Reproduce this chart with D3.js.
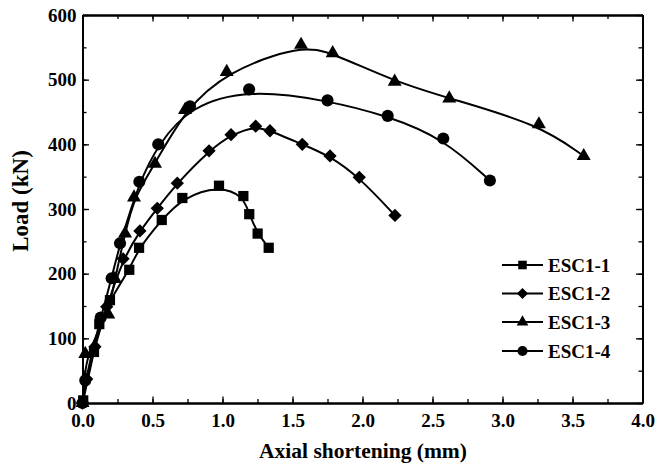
<!DOCTYPE html>
<html><head><meta charset="utf-8">
<script src="https://cdn.jsdelivr.net/npm/d3@7"></script>
<style>body{margin:0;background:#fff}svg{display:block}text{font-family:"Liberation Serif","Times New Roman",serif;font-weight:bold}</style>
</head><body><svg id="c" width="657" height="470"></svg>
<script>
const seriesNames = ["ESC1-1","ESC1-2","ESC1-3","ESC1-4"];
const markers = ["square","diamond","triangle","circle"];
const esc1_1 = [[0.005,4],[0.082,79],[0.12,122],[0.196,159],[0.334,206],[0.404,240],[0.566,283],[0.713,317],[0.975,336],[1.149,320],[1.191,292],[1.251,262],[1.33,240]];
const esc1_2 = [[0,0],[0.03,37],[0.089,87],[0.173,149],[0.29,223],[0.41,266],[0.534,301],[0.677,340],[0.904,390],[1.061,415],[1.237,428],[1.339,421],[1.57,400],[1.768,382],[1.977,349],[2.232,290]];
const esc1_3 = [[0,0],[0.02,76],[0.184,137],[0.232,192],[0.304,262],[0.368,318],[0.518,370],[0.732,453],[1.03,512],[1.561,554],[1.787,541],[2.23,497],[2.62,471],[3.26,431],[3.58,382]];
const esc1_4 = [[0,0],[0.02,35],[0.13,132],[0.208,193],[0.268,247],[0.406,342],[0.541,400],[0.768,459],[1.19,485],[1.75,468],[2.18,444],[2.577,409],[2.91,344]];
const seriesData = [esc1_1, esc1_2, esc1_3, esc1_4];
const xTicks = [0,0.5,1.0,1.5,2.0,2.5,3.0,3.5,4.0];
const yTicks = [0,100,200,300,400,500,600];

const svg = d3.select("#c");
const L=82.5, R=642.5, T=15, B=403;
const x = d3.scaleLinear().domain([0,4]).range([L,R]);
const y = d3.scaleLinear().domain([0,600]).range([B,T]);

const symMap = {square:d3.symbolSquare, diamond:d3.symbolSquare, triangle:d3.symbolTriangle, circle:d3.symbolCircle};
const symSize = {square:105, diamond:88, triangle:85, circle:115};
const symRot = {square:0, diamond:45, triangle:0, circle:0};

const line = d3.line().x(d=>x(d[0])).y(d=>y(d[1])).curve(d3.curveBasis);
seriesData.forEach((s,i)=>{
  svg.append("path").attr("d",line(s)).attr("fill","none").attr("stroke","#000").attr("stroke-width",2);
  const m = markers[i];
  svg.selectAll(null).data(s).enter().append("path")
    .attr("transform",d=>`translate(${x(d[0])},${y(d[1])}) rotate(${symRot[m]})`)
    .attr("d",d3.symbol().type(symMap[m]).size(symSize[m]))
    .attr("fill","#000");
});

// axes
const minorX = d3.range(0,4.01,0.25), minorY = d3.range(0,601,50);
function addAxis(axis, tf){ return svg.append("g").attr("transform",tf).call(axis); }
const ax = [];
ax.push(addAxis(d3.axisBottom(x).tickValues(xTicks).tickFormat(d3.format(".1f")).tickSizeInner(-6.5).tickSizeOuter(0).tickPadding(11), `translate(0,${B})`));
ax.push(addAxis(d3.axisBottom(x).tickValues(minorX).tickFormat("").tickSizeInner(-4).tickSizeOuter(0), `translate(0,${B})`));
ax.push(addAxis(d3.axisTop(x).tickValues(xTicks).tickFormat("").tickSizeInner(-6.5).tickSizeOuter(0), `translate(0,${T})`));
ax.push(addAxis(d3.axisTop(x).tickValues(minorX).tickFormat("").tickSizeInner(-4).tickSizeOuter(0), `translate(0,${T})`));
ax.push(addAxis(d3.axisLeft(y).tickValues(yTicks).tickFormat(d3.format("d")).tickSizeInner(-6.5).tickSizeOuter(0).tickPadding(6), `translate(${L},0)`));
ax.push(addAxis(d3.axisLeft(y).tickValues(minorY).tickFormat("").tickSizeInner(-4).tickSizeOuter(0), `translate(${L},0)`));
ax.push(addAxis(d3.axisRight(y).tickValues(yTicks).tickFormat("").tickSizeInner(-6.5).tickSizeOuter(0), `translate(${R},0)`));
ax.push(addAxis(d3.axisRight(y).tickValues(minorY).tickFormat("").tickSizeInner(-4).tickSizeOuter(0), `translate(${R},0)`));
ax.forEach(g=>{
  g.selectAll(".domain").attr("stroke","#000").attr("stroke-width",2);
  g.selectAll(".tick line").attr("stroke","#000").attr("stroke-width",1.3);
  g.selectAll("text").attr("font-size",19).attr("font-family","Liberation Serif").attr("font-weight","bold").attr("fill","#000");
});

svg.append("text").attr("x",363).attr("y",458).attr("text-anchor","middle").attr("font-size",21.5).text("Axial shortening (mm)");
svg.append("text").attr("transform","translate(28,201) rotate(-90)").attr("text-anchor","middle").attr("font-size",23).text("Load (kN)");

// legend
const lgY = [265,293.5,322,351];
seriesNames.forEach((n,i)=>{
  const m = markers[i];
  const g = svg.append("g").attr("transform",`translate(0,${lgY[i]})`);
  g.append("line").attr("x1",502).attr("x2",543).attr("y1",0).attr("y2",0).attr("stroke","#000").attr("stroke-width",2);
  g.append("path").attr("transform",`translate(522.5,0) rotate(${symRot[m]})`).attr("d",d3.symbol().type(symMap[m]).size(symSize[m]*0.7)).attr("fill","#000");
  g.append("text").attr("x",548).attr("y",6.5).attr("font-size",19).text(n);
});
</script></body></html>
